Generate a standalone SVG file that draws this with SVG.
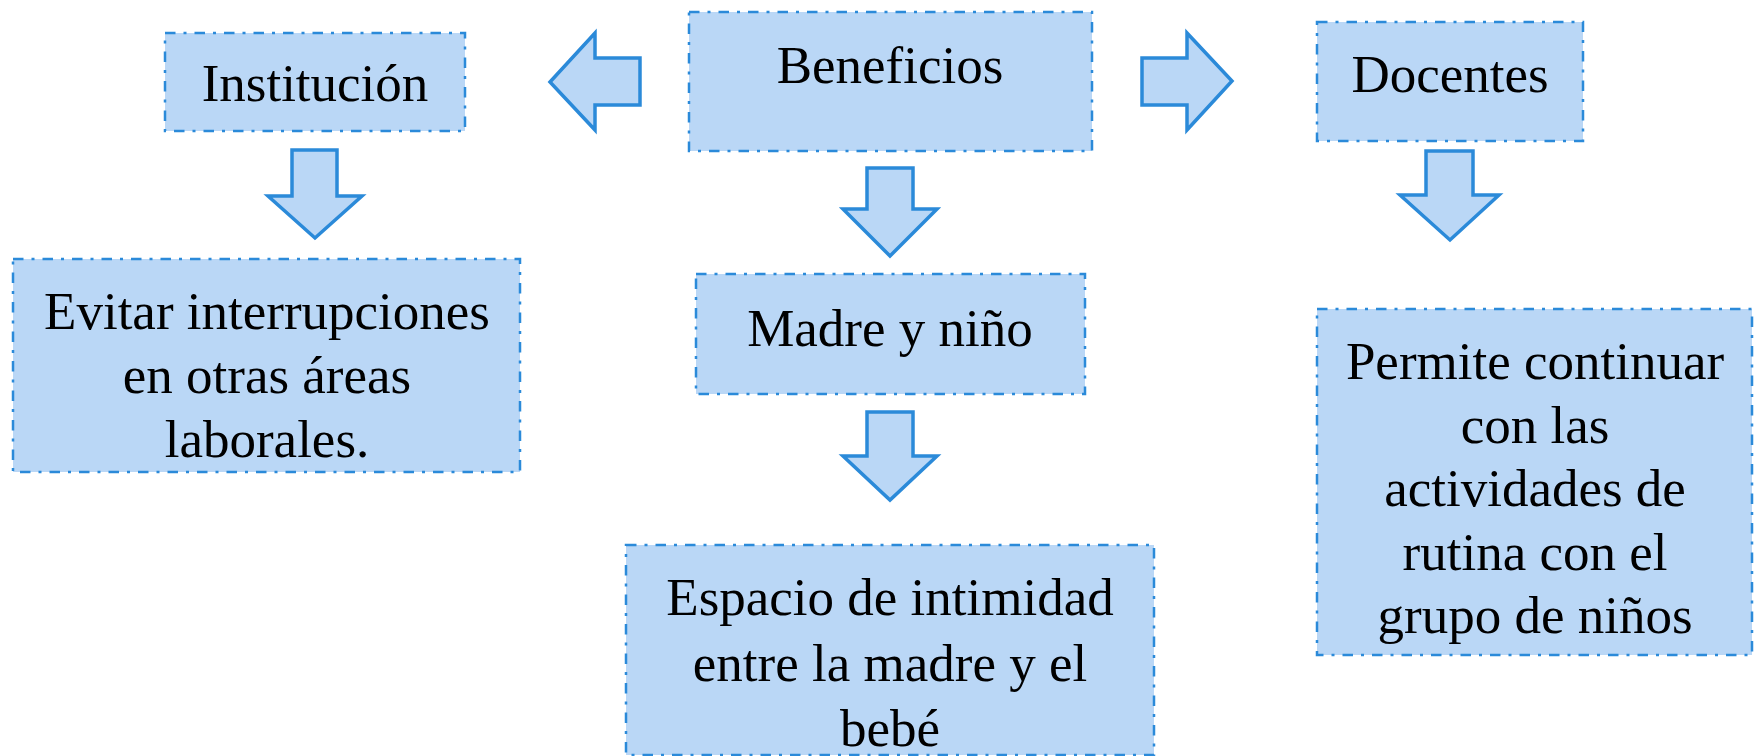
<svg xmlns="http://www.w3.org/2000/svg" width="1754" height="756" viewBox="0 0 1754 756">
<style>
.box{fill:#BAD7F6;stroke:#2B8AD9;stroke-width:2.5;stroke-dasharray:10.5 8 3 8}
.arr{fill:#BAD7F6;stroke:#2B8AD9;stroke-width:3.5;stroke-linejoin:miter}
.t{font-family:"Liberation Serif","Times New Roman",serif;font-size:53px;fill:#000;text-anchor:middle}
</style>
<rect width="1754" height="756" fill="#fff"/>
<g id="connectors">
<polygon class="arr" points="550,82 595,33 595,58 640,58 640,105 595,105 595,130"/>
<polygon class="arr" points="1142,58 1187,58 1187,33 1232,81 1187,130 1187,105 1142,105"/>
<polygon class="arr" points="292,150 337,150 337,196 362,196 315,238 268,196 292,196"/>
<polygon class="arr" points="867,168 913,168 913,209 937,209 890,256 843,209 867,209"/>
<polygon class="arr" points="867,412 913,412 913,456 937,456 890,500 843,456 867,456"/>
<polygon class="arr" points="1426,151 1473,151 1473,195 1499,195 1450,240 1400,195 1426,195"/>
</g>
<g id="institucion">
<rect class="box" x="165" y="33" width="300" height="98"/>
<text class="t" x="315" y="101">Institución</text>
</g>
<g id="beneficios">
<rect class="box" x="689" y="12" width="403" height="139"/>
<text class="t" x="890" y="83">Beneficios</text>
</g>
<g id="docentes">
<rect class="box" x="1317" y="22" width="266" height="119"/>
<text class="t" x="1450" y="92">Docentes</text>
</g>
<g id="evitar">
<rect class="box" x="13" y="259" width="507" height="213"/>
<text class="t" x="267" y="329">Evitar interrupciones</text>
<text class="t" x="267" y="393">en otras áreas</text>
<text class="t" x="267" y="457">laborales.</text>
</g>
<g id="madre">
<rect class="box" x="696" y="274" width="389" height="120"/>
<text class="t" x="890" y="346">Madre y niño</text>
</g>
<g id="espacio">
<rect class="box" x="626" y="545" width="528" height="210"/>
<text class="t" x="890" y="615">Espacio de intimidad</text>
<text class="t" x="890" y="681">entre la madre y el</text>
<text class="t" x="890" y="746">bebé</text>
</g>
<g id="permite">
<rect class="box" x="1317" y="309" width="435" height="346"/>
<text class="t" x="1535" y="379">Permite continuar</text>
<text class="t" x="1535" y="443">con las</text>
<text class="t" x="1535" y="506">actividades de</text>
<text class="t" x="1535" y="570">rutina con el</text>
<text class="t" x="1535" y="633">grupo de niños</text>
</g>
</svg>
